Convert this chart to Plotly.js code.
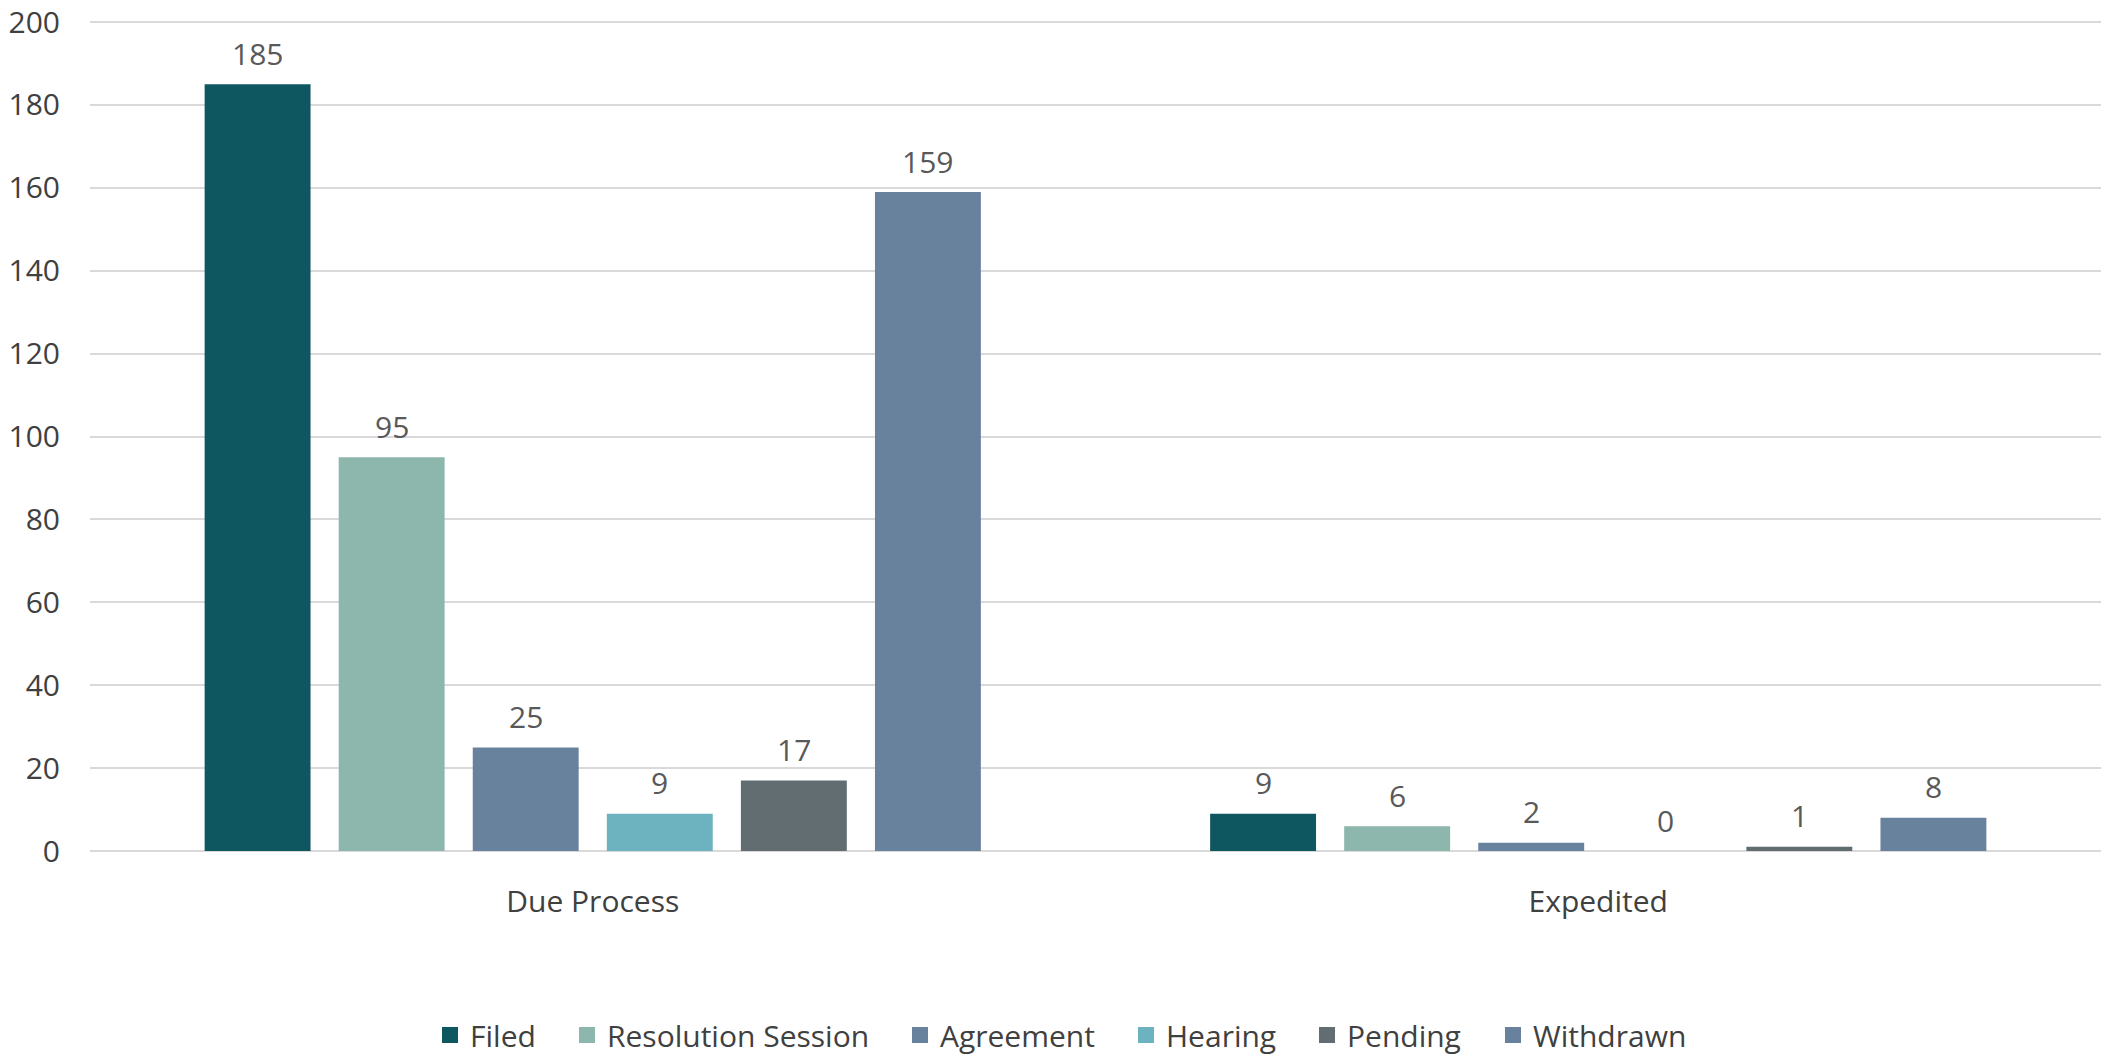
<!DOCTYPE html>
<html>
<head>
<meta charset="utf-8">
<script src="https://cdn.plot.ly/plotly-3.0.1.min.js"></script>
<style>html,body{margin:0;padding:0;background:#fff;}#chart{width:2101px;height:1057px;}</style>
</head>
<body>
<div id="chart"></div>
<script>
const categories = ["Due Process", "Expedited"];
const seriesNames = ["Filed", "Resolution Session", "Agreement", "Hearing", "Pending", "Withdrawn"];
const filed = [185, 9];
const resolutionSession = [95, 6];
const agreement = [25, 2];
const hearing = [9, 0];
const pending = [17, 1];
const withdrawn = [159, 8];
const seriesColors = ["#0F5760", "#8DB6AC", "#68829E", "#6DB3BF", "#626D71", "#68829E"];
const yTicks = [0, 20, 40, 60, 80, 100, 120, 140, 160, 180, 200];

const seriesValues = [filed, resolutionSession, agreement, hearing, pending, withdrawn];
const FONT = '"Open Sans", "Noto Sans", sans-serif';
const FS = 30;

// pixel x of each legend swatch's left edge (layout only)
const legendSwatchLeft = [444, 581, 914, 1140, 1321, 1507];
const plotLeft = 90, plotWidth = 2011, figH = 1057;

const traces = [];
seriesValues.forEach((vals, i) => {
  traces.push({
    type: 'bar', x: categories, y: vals, name: seriesNames[i],
    marker: {color: seriesColors[i]}, showlegend: false, hoverinfo: 'x+y+name'
  });
});
// legend entries, one legend each so they can be spaced like the reference
seriesNames.forEach((n, i) => {
  traces.push({
    type: 'scatter', mode: 'markers', x: [null], y: [null], name: n,
    legend: i === 0 ? 'legend' : 'legend' + (i + 1),
    marker: {symbol: 'square', size: 20, color: seriesColors[i]}, showlegend: true
  });
});

// data labels
const slot = 134;
const annotations = [];
seriesValues.forEach((vals, i) => {
  vals.forEach((v, j) => {
    annotations.push({
      x: categories[j], y: v, xref: 'x', yref: 'y', text: String(v),
      showarrow: false, xshift: (i - 2.5) * slot, yshift: 31, yanchor: 'middle',
      font: {family: FONT, size: FS, color: '#595959'}
    });
  });
});

const layout = {
  width: 2101, height: figH,
  margin: {l: plotLeft, r: 0, t: 20, b: 206},
  paper_bgcolor: '#fff', plot_bgcolor: '#fff',
  barmode: 'group', bargap: 0.2, bargroupgap: 0.21,
  font: {family: FONT, size: FS, color: '#404040'},
  xaxis: {
    type: 'category', showgrid: false, showline: false, zeroline: false,
    ticks: '', ticklabelstandoff: 30, automargin: false,
    tickfont: {family: FONT, size: FS, color: '#404040'}
  },
  yaxis: {
    range: [0, 200.5], tickvals: yTicks, showgrid: true, gridcolor: '#D9D9D9', gridwidth: 2,
    zeroline: true, zerolinecolor: '#D9D9D9', zerolinewidth: 2, showline: false,
    ticks: '', ticklabelstandoff: 29, ticklabeloverflow: 'allow', automargin: false,
    tickfont: {family: FONT, size: FS, color: '#404040'}
  },
  showlegend: true,
  annotations: annotations
};
legendSwatchLeft.forEach((px, i) => {
  const key = i === 0 ? 'legend' : 'legend' + (i + 1);
  layout[key] = {
    orientation: 'h', x: (px - 14 - plotLeft) / plotWidth, xanchor: 'left',
    yref: 'container', y: (figH - 1035) / figH, yanchor: 'middle',
    bgcolor: 'rgba(0,0,0,0)', borderwidth: 0,
    font: {family: FONT, size: FS, color: '#404040'}
  };
});

Plotly.newPlot('chart', traces, layout, {displayModeBar: false, staticPlot: true});
</script>
</body>
</html>
